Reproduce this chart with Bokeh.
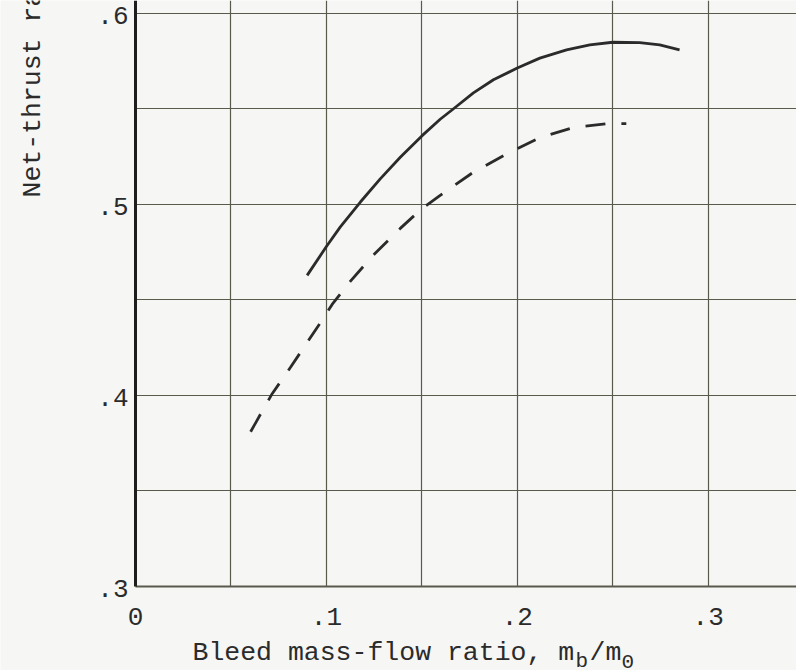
import math
from bokeh.plotting import figure
from bokeh.models import Range1d, FixedTicker, Label, Grid
from bokeh.core.properties import value
from bokeh.embed import file_html
from bokeh.resources import INLINE

# ---- data ----
solid_x = [0.0899, 0.100, 0.1073, 0.1178, 0.1282, 0.1387, 0.150, 0.1596, 0.1666, 0.177,
           0.1875, 0.200, 0.2118, 0.2258, 0.238, 0.250, 0.2641, 0.2746, 0.285]
solid_y = [0.4628, 0.4779, 0.4882, 0.5012, 0.5133, 0.5246, 0.5358, 0.5445, 0.5500, 0.5583,
           0.5652, 0.5713, 0.5765, 0.5808, 0.5834, 0.5848, 0.5846, 0.5834, 0.5808]

dashed_x = [0.0603, 0.0716, 0.0812, 0.0969, 0.103, 0.1125, 0.1247, 0.1387, 0.150, 0.1596,
            0.177, 0.1944, 0.2118, 0.2293, 0.2467, 0.2571]
dashed_y = [0.3810, 0.4009, 0.4147, 0.4381, 0.4476, 0.4597, 0.4735, 0.4874, 0.4977, 0.5047,
            0.5168, 0.5263, 0.5349, 0.5401, 0.5422, 0.5422]

x_ticks = [0.0, 0.1, 0.2, 0.3]
x_tick_labels = ["0", ".1", ".2", ".3"]
y_ticks = [0.3, 0.4, 0.5, 0.6]
y_tick_labels = [".3", ".4", ".5", ".6"]
x_grid = [0.05, 0.10, 0.15, 0.20, 0.25, 0.30]
y_grid = [0.35, 0.40, 0.45, 0.50, 0.55, 0.60]

x_label_main = "Bleed mass-flow ratio, m"
x_label_sub1 = "b"
x_label_mid = "/m"
x_label_sub2 = "0"
y_label = "Net-thrust ratio"

FONT = "Liberation Mono"
BG = "#f6f6f4"
INK = "#2b2b2b"
GRID = "#5a5a4c"

W, H = 796, 670
X0, XMIN, XMAX = 0.0, -0.07072, 0.34625      # axis origin and visible data window
Y0, YMIN, YMAX = 0.3, 0.25604, 0.60665

p = figure(width=W, height=H, output_backend="svg", toolbar_location=None,
           x_range=Range1d(XMIN, XMAX), y_range=Range1d(YMIN, YMAX),
           x_axis_location=None, y_axis_location=None, min_border=0)
p.background_fill_color = BG
p.border_fill_color = BG
p.outline_line_color = None
p.center = [c for c in p.center if not isinstance(c, Grid)]

# grid lines, limited to the plotting quadrant
has_cross = "cross_bounds" in Grid.properties()
if has_cross:
    gx = Grid(dimension=0, ticker=FixedTicker(ticks=x_grid), cross_bounds=(Y0, YMAX),
              grid_line_color=GRID, grid_line_width=1.2)
    gy = Grid(dimension=1, ticker=FixedTicker(ticks=y_grid), cross_bounds=(X0, XMAX),
              grid_line_color=GRID, grid_line_width=1.2)
    p.add_layout(gx)
    p.add_layout(gy)
else:
    p.segment(x0=x_grid, y0=[Y0] * len(x_grid), x1=x_grid, y1=[YMAX] * len(x_grid),
              line_color=GRID, line_width=1.2)
    p.segment(x0=[X0] * len(y_grid), y0=y_grid, x1=[XMAX] * len(y_grid), y1=y_grid,
              line_color=GRID, line_width=1.2)

# axis lines
p.segment(x0=[X0], y0=[Y0], x1=[XMAX], y1=[Y0], line_color=GRID, line_width=2)
p.segment(x0=[X0], y0=[Y0], x1=[X0], y1=[YMAX], line_color="#1e1e1e", line_width=3)

# tick labels
p.text(x=x_ticks, y=[Y0] * len(x_ticks), text=x_tick_labels, text_align="center",
       text_baseline="middle", y_offset=30, text_font=value(FONT),
       text_font_size="26px", text_color=INK)
p.text(x=[X0] * len(y_ticks), y=y_ticks, text=y_tick_labels, text_align="right",
       text_baseline="middle", x_offset=-7, y_offset=2, text_font=value(FONT),
       text_font_size="26px", text_color=INK)

# curves
p.line(solid_x, solid_y, line_color=INK, line_width=2.8, line_join="round")
p.line(dashed_x, dashed_y, line_color=INK, line_width=2.8, line_dash="20 16")

# axis titles (screen units from the bottom-left of the plot area)
def lab(x, y, text, size, angle=0.0):
    return Label(x=x, y=y, x_units="screen", y_units="screen", text=text, angle=angle,
                 text_align="left", text_baseline="alphabetic",
                 text_font=FONT, text_font_size=size, text_color=INK)

p.add_layout(lab(32, H - 197, y_label, "26.5px", math.pi / 2))
p.add_layout(lab(192, H - 652, x_label_main, "26.5px"))
p.add_layout(lab(575, H - 661, x_label_sub1, "21px"))
p.add_layout(lab(589, H - 652, x_label_mid, "26.5px"))
p.add_layout(lab(621, H - 661, x_label_sub2, "21px"))

open("out.html", "w").write(file_html(p, INLINE))
